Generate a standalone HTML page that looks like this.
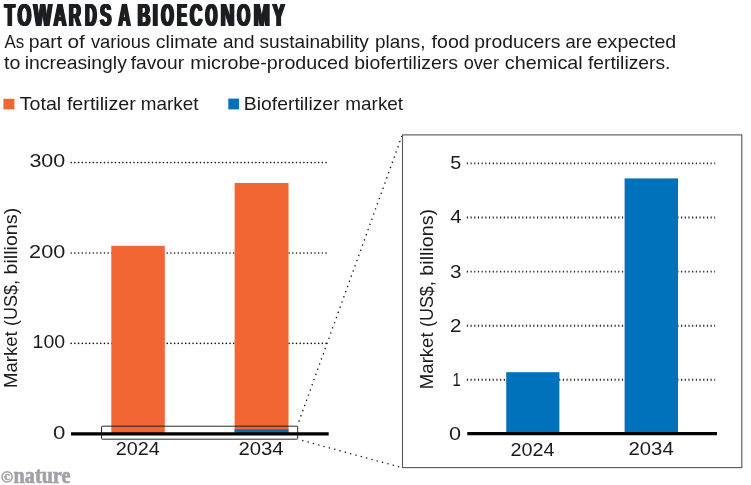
<!DOCTYPE html>
<html><head><meta charset="utf-8">
<style>
html,body{margin:0;padding:0;background:#fff;}
body{width:751px;height:485px;overflow:hidden;}
svg{display:block;will-change:transform;}
text{font-family:"Liberation Sans",sans-serif;fill:#1a1a1a;}
</style></head><body>
<svg width="751" height="485" viewBox="0 0 751 485">
<rect width="751" height="485" fill="#fff"/>
<!-- legend swatches -->
<rect x="3.4" y="98.8" width="11" height="10.6" fill="#F16633"/>
<rect x="228.3" y="98.6" width="10.7" height="10.8" fill="#0072BC"/>

<!-- LEFT CHART -->
<g stroke="#111" stroke-width="1.6" stroke-linecap="round" stroke-dasharray="0.01 3.683" fill="none">
<line x1="71.2" y1="162.6" x2="326.4" y2="162.6"/>
<line x1="71.2" y1="253" x2="326.4" y2="253"/>
<line x1="71.2" y1="343.4" x2="326.4" y2="343.4"/>
</g>
<rect x="111.3" y="245.8" width="53.5" height="187.5" fill="#F16633"/>
<rect x="234.6" y="183" width="53.9" height="250.3" fill="#F16633"/>
<rect x="234.6" y="429.2" width="53.9" height="3.6" fill="#0072BC"/>
<line x1="71" y1="433.9" x2="328.7" y2="433.9" stroke="#000" stroke-width="3.1"/>
<rect x="101.5" y="426.2" width="196.2" height="13" rx="0.8" fill="none" stroke="#111" stroke-width="0.9"/>
<g transform="translate(17,386.6) rotate(-90)">
<text x="-1.45" y="0.00" font-size="18" textLength="56.69" lengthAdjust="spacingAndGlyphs">Market</text>
<text x="60.66" y="0.00" font-size="18" textLength="45.88" lengthAdjust="spacingAndGlyphs">(US$,</text>
<text x="112.07" y="0.00" font-size="18" textLength="66.75" lengthAdjust="spacingAndGlyphs">billions)</text>
</g>

<!-- connectors -->
<g stroke="#111" stroke-width="1.5" stroke-linecap="round" fill="none">
<line x1="401.7" y1="136.4" x2="297.4" y2="425.6" stroke-dasharray="0.01 5.49"/>
<line x1="398.5" y1="466.7" x2="297.9" y2="439.28" stroke-dasharray="0.01 5.50"/>
</g>

<!-- RIGHT PANEL -->
<rect x="402.5" y="134.9" width="339.3" height="332.7" fill="#fff" stroke="#555" stroke-width="1.1"/>
<g stroke="#1a1a1a" stroke-width="1.9" stroke-dasharray="1.15 2.543" fill="none">
<line x1="466.83" y1="163.4" x2="715.1" y2="163.4"/>
<line x1="466.83" y1="217.5" x2="715.1" y2="217.5"/>
<line x1="466.83" y1="271.6" x2="715.1" y2="271.6"/>
<line x1="466.83" y1="325.7" x2="715.1" y2="325.7"/>
<line x1="466.83" y1="379.7" x2="715.1" y2="379.7"/>
</g>
<rect x="506.2" y="372.2" width="53.2" height="61" fill="#0072BC"/>
<rect x="624.6" y="178.4" width="53.4" height="255" fill="#0072BC"/>
<line x1="467.3" y1="433.65" x2="717" y2="433.65" stroke="#000" stroke-width="3.1"/>
<g transform="translate(432.7,387.7) rotate(-90)">
<text x="-1.45" y="0.00" font-size="18" textLength="56.69" lengthAdjust="spacingAndGlyphs">Market</text>
<text x="60.66" y="0.00" font-size="18" textLength="45.88" lengthAdjust="spacingAndGlyphs">(US$,</text>
<text x="112.07" y="0.00" font-size="18" textLength="66.75" lengthAdjust="spacingAndGlyphs">billions)</text>
</g>

<!-- copyright mark -->
<circle cx="7.1" cy="476.8" r="5.15" fill="none" stroke="#a0a3a6" stroke-width="1.5"/>
<text x="4.2" y="480.3" font-size="12.5" font-weight="bold" stroke="#a0a3a6" stroke-width="0.4" style="font-family:'Liberation Serif',serif;fill:#a0a3a6">c</text>

<!-- all text -->
<text x="3.40" y="26.20" font-size="31.5" font-weight="bold" textLength="10.32" lengthAdjust="spacingAndGlyphs" style="fill:#1c1f22">T</text>
<text x="3.97" y="26.20" font-size="31.5" font-weight="bold" textLength="10.32" lengthAdjust="spacingAndGlyphs" style="fill:#1c1f22">T</text>
<text x="4.55" y="26.20" font-size="31.5" font-weight="bold" textLength="10.32" lengthAdjust="spacingAndGlyphs" style="fill:#1c1f22">T</text>
<text x="5.12" y="26.20" font-size="31.5" font-weight="bold" textLength="10.32" lengthAdjust="spacingAndGlyphs" style="fill:#1c1f22">T</text>
<text x="5.70" y="26.20" font-size="31.5" font-weight="bold" textLength="10.32" lengthAdjust="spacingAndGlyphs" style="fill:#1c1f22">T</text>
<text x="16.45" y="26.20" font-size="31.5" font-weight="bold" textLength="13.64" lengthAdjust="spacingAndGlyphs" style="fill:#1c1f22">O</text>
<text x="17.03" y="26.20" font-size="31.5" font-weight="bold" textLength="13.64" lengthAdjust="spacingAndGlyphs" style="fill:#1c1f22">O</text>
<text x="17.60" y="26.20" font-size="31.5" font-weight="bold" textLength="13.64" lengthAdjust="spacingAndGlyphs" style="fill:#1c1f22">O</text>
<text x="18.18" y="26.20" font-size="31.5" font-weight="bold" textLength="13.64" lengthAdjust="spacingAndGlyphs" style="fill:#1c1f22">O</text>
<text x="18.75" y="26.20" font-size="31.5" font-weight="bold" textLength="13.64" lengthAdjust="spacingAndGlyphs" style="fill:#1c1f22">O</text>
<text x="32.50" y="26.20" font-size="31.5" font-weight="bold" textLength="18.22" lengthAdjust="spacingAndGlyphs" style="fill:#1c1f22">W</text>
<text x="33.08" y="26.20" font-size="31.5" font-weight="bold" textLength="18.22" lengthAdjust="spacingAndGlyphs" style="fill:#1c1f22">W</text>
<text x="33.65" y="26.20" font-size="31.5" font-weight="bold" textLength="18.22" lengthAdjust="spacingAndGlyphs" style="fill:#1c1f22">W</text>
<text x="34.23" y="26.20" font-size="31.5" font-weight="bold" textLength="18.22" lengthAdjust="spacingAndGlyphs" style="fill:#1c1f22">W</text>
<text x="34.80" y="26.20" font-size="31.5" font-weight="bold" textLength="18.22" lengthAdjust="spacingAndGlyphs" style="fill:#1c1f22">W</text>
<text x="52.43" y="26.20" font-size="31.5" font-weight="bold" textLength="12.71" lengthAdjust="spacingAndGlyphs" style="fill:#1c1f22">A</text>
<text x="53.00" y="26.20" font-size="31.5" font-weight="bold" textLength="12.71" lengthAdjust="spacingAndGlyphs" style="fill:#1c1f22">A</text>
<text x="53.58" y="26.20" font-size="31.5" font-weight="bold" textLength="12.71" lengthAdjust="spacingAndGlyphs" style="fill:#1c1f22">A</text>
<text x="54.15" y="26.20" font-size="31.5" font-weight="bold" textLength="12.71" lengthAdjust="spacingAndGlyphs" style="fill:#1c1f22">A</text>
<text x="54.73" y="26.20" font-size="31.5" font-weight="bold" textLength="12.71" lengthAdjust="spacingAndGlyphs" style="fill:#1c1f22">A</text>
<text x="67.66" y="26.20" font-size="31.5" font-weight="bold" textLength="12.06" lengthAdjust="spacingAndGlyphs" style="fill:#1c1f22">R</text>
<text x="68.23" y="26.20" font-size="31.5" font-weight="bold" textLength="12.06" lengthAdjust="spacingAndGlyphs" style="fill:#1c1f22">R</text>
<text x="68.81" y="26.20" font-size="31.5" font-weight="bold" textLength="12.06" lengthAdjust="spacingAndGlyphs" style="fill:#1c1f22">R</text>
<text x="69.38" y="26.20" font-size="31.5" font-weight="bold" textLength="12.06" lengthAdjust="spacingAndGlyphs" style="fill:#1c1f22">R</text>
<text x="69.96" y="26.20" font-size="31.5" font-weight="bold" textLength="12.06" lengthAdjust="spacingAndGlyphs" style="fill:#1c1f22">R</text>
<text x="83.90" y="26.20" font-size="31.5" font-weight="bold" textLength="11.55" lengthAdjust="spacingAndGlyphs" style="fill:#1c1f22">D</text>
<text x="84.48" y="26.20" font-size="31.5" font-weight="bold" textLength="11.55" lengthAdjust="spacingAndGlyphs" style="fill:#1c1f22">D</text>
<text x="85.05" y="26.20" font-size="31.5" font-weight="bold" textLength="11.55" lengthAdjust="spacingAndGlyphs" style="fill:#1c1f22">D</text>
<text x="85.62" y="26.20" font-size="31.5" font-weight="bold" textLength="11.55" lengthAdjust="spacingAndGlyphs" style="fill:#1c1f22">D</text>
<text x="86.20" y="26.20" font-size="31.5" font-weight="bold" textLength="11.55" lengthAdjust="spacingAndGlyphs" style="fill:#1c1f22">D</text>
<text x="99.04" y="26.20" font-size="31.5" font-weight="bold" textLength="11.21" lengthAdjust="spacingAndGlyphs" style="fill:#1c1f22">S</text>
<text x="99.61" y="26.20" font-size="31.5" font-weight="bold" textLength="11.21" lengthAdjust="spacingAndGlyphs" style="fill:#1c1f22">S</text>
<text x="100.19" y="26.20" font-size="31.5" font-weight="bold" textLength="11.21" lengthAdjust="spacingAndGlyphs" style="fill:#1c1f22">S</text>
<text x="100.76" y="26.20" font-size="31.5" font-weight="bold" textLength="11.21" lengthAdjust="spacingAndGlyphs" style="fill:#1c1f22">S</text>
<text x="101.34" y="26.20" font-size="31.5" font-weight="bold" textLength="11.21" lengthAdjust="spacingAndGlyphs" style="fill:#1c1f22">S</text>
<text x="117.14" y="26.20" font-size="31.5" font-weight="bold" textLength="12.08" lengthAdjust="spacingAndGlyphs" style="fill:#1c1f22">A</text>
<text x="117.71" y="26.20" font-size="31.5" font-weight="bold" textLength="12.08" lengthAdjust="spacingAndGlyphs" style="fill:#1c1f22">A</text>
<text x="118.29" y="26.20" font-size="31.5" font-weight="bold" textLength="12.08" lengthAdjust="spacingAndGlyphs" style="fill:#1c1f22">A</text>
<text x="118.86" y="26.20" font-size="31.5" font-weight="bold" textLength="12.08" lengthAdjust="spacingAndGlyphs" style="fill:#1c1f22">A</text>
<text x="119.44" y="26.20" font-size="31.5" font-weight="bold" textLength="12.08" lengthAdjust="spacingAndGlyphs" style="fill:#1c1f22">A</text>
<text x="136.62" y="26.20" font-size="31.5" font-weight="bold" textLength="12.48" lengthAdjust="spacingAndGlyphs" style="fill:#1c1f22">B</text>
<text x="137.19" y="26.20" font-size="31.5" font-weight="bold" textLength="12.48" lengthAdjust="spacingAndGlyphs" style="fill:#1c1f22">B</text>
<text x="137.77" y="26.20" font-size="31.5" font-weight="bold" textLength="12.48" lengthAdjust="spacingAndGlyphs" style="fill:#1c1f22">B</text>
<text x="138.34" y="26.20" font-size="31.5" font-weight="bold" textLength="12.48" lengthAdjust="spacingAndGlyphs" style="fill:#1c1f22">B</text>
<text x="138.92" y="26.20" font-size="31.5" font-weight="bold" textLength="12.48" lengthAdjust="spacingAndGlyphs" style="fill:#1c1f22">B</text>
<text x="151.40" y="26.20" font-size="31.5" font-weight="bold" textLength="5.33" lengthAdjust="spacingAndGlyphs" style="fill:#1c1f22">I</text>
<text x="151.97" y="26.20" font-size="31.5" font-weight="bold" textLength="5.33" lengthAdjust="spacingAndGlyphs" style="fill:#1c1f22">I</text>
<text x="152.55" y="26.20" font-size="31.5" font-weight="bold" textLength="5.33" lengthAdjust="spacingAndGlyphs" style="fill:#1c1f22">I</text>
<text x="153.12" y="26.20" font-size="31.5" font-weight="bold" textLength="5.33" lengthAdjust="spacingAndGlyphs" style="fill:#1c1f22">I</text>
<text x="153.70" y="26.20" font-size="31.5" font-weight="bold" textLength="5.33" lengthAdjust="spacingAndGlyphs" style="fill:#1c1f22">I</text>
<text x="160.10" y="26.20" font-size="31.5" font-weight="bold" textLength="12.45" lengthAdjust="spacingAndGlyphs" style="fill:#1c1f22">O</text>
<text x="160.67" y="26.20" font-size="31.5" font-weight="bold" textLength="12.45" lengthAdjust="spacingAndGlyphs" style="fill:#1c1f22">O</text>
<text x="161.25" y="26.20" font-size="31.5" font-weight="bold" textLength="12.45" lengthAdjust="spacingAndGlyphs" style="fill:#1c1f22">O</text>
<text x="161.82" y="26.20" font-size="31.5" font-weight="bold" textLength="12.45" lengthAdjust="spacingAndGlyphs" style="fill:#1c1f22">O</text>
<text x="162.40" y="26.20" font-size="31.5" font-weight="bold" textLength="12.45" lengthAdjust="spacingAndGlyphs" style="fill:#1c1f22">O</text>
<text x="175.98" y="26.20" font-size="31.5" font-weight="bold" textLength="9.81" lengthAdjust="spacingAndGlyphs" style="fill:#1c1f22">E</text>
<text x="176.56" y="26.20" font-size="31.5" font-weight="bold" textLength="9.81" lengthAdjust="spacingAndGlyphs" style="fill:#1c1f22">E</text>
<text x="177.13" y="26.20" font-size="31.5" font-weight="bold" textLength="9.81" lengthAdjust="spacingAndGlyphs" style="fill:#1c1f22">E</text>
<text x="177.71" y="26.20" font-size="31.5" font-weight="bold" textLength="9.81" lengthAdjust="spacingAndGlyphs" style="fill:#1c1f22">E</text>
<text x="178.28" y="26.20" font-size="31.5" font-weight="bold" textLength="9.81" lengthAdjust="spacingAndGlyphs" style="fill:#1c1f22">E</text>
<text x="188.76" y="26.20" font-size="31.5" font-weight="bold" textLength="12.47" lengthAdjust="spacingAndGlyphs" style="fill:#1c1f22">C</text>
<text x="189.34" y="26.20" font-size="31.5" font-weight="bold" textLength="12.47" lengthAdjust="spacingAndGlyphs" style="fill:#1c1f22">C</text>
<text x="189.91" y="26.20" font-size="31.5" font-weight="bold" textLength="12.47" lengthAdjust="spacingAndGlyphs" style="fill:#1c1f22">C</text>
<text x="190.49" y="26.20" font-size="31.5" font-weight="bold" textLength="12.47" lengthAdjust="spacingAndGlyphs" style="fill:#1c1f22">C</text>
<text x="191.06" y="26.20" font-size="31.5" font-weight="bold" textLength="12.47" lengthAdjust="spacingAndGlyphs" style="fill:#1c1f22">C</text>
<text x="204.33" y="26.20" font-size="31.5" font-weight="bold" textLength="11.80" lengthAdjust="spacingAndGlyphs" style="fill:#1c1f22">O</text>
<text x="204.90" y="26.20" font-size="31.5" font-weight="bold" textLength="11.80" lengthAdjust="spacingAndGlyphs" style="fill:#1c1f22">O</text>
<text x="205.48" y="26.20" font-size="31.5" font-weight="bold" textLength="11.80" lengthAdjust="spacingAndGlyphs" style="fill:#1c1f22">O</text>
<text x="206.05" y="26.20" font-size="31.5" font-weight="bold" textLength="11.80" lengthAdjust="spacingAndGlyphs" style="fill:#1c1f22">O</text>
<text x="206.63" y="26.20" font-size="31.5" font-weight="bold" textLength="11.80" lengthAdjust="spacingAndGlyphs" style="fill:#1c1f22">O</text>
<text x="219.40" y="26.20" font-size="31.5" font-weight="bold" textLength="13.87" lengthAdjust="spacingAndGlyphs" style="fill:#1c1f22">N</text>
<text x="219.97" y="26.20" font-size="31.5" font-weight="bold" textLength="13.87" lengthAdjust="spacingAndGlyphs" style="fill:#1c1f22">N</text>
<text x="220.55" y="26.20" font-size="31.5" font-weight="bold" textLength="13.87" lengthAdjust="spacingAndGlyphs" style="fill:#1c1f22">N</text>
<text x="221.12" y="26.20" font-size="31.5" font-weight="bold" textLength="13.87" lengthAdjust="spacingAndGlyphs" style="fill:#1c1f22">N</text>
<text x="221.70" y="26.20" font-size="31.5" font-weight="bold" textLength="13.87" lengthAdjust="spacingAndGlyphs" style="fill:#1c1f22">N</text>
<text x="236.07" y="26.20" font-size="31.5" font-weight="bold" textLength="13.09" lengthAdjust="spacingAndGlyphs" style="fill:#1c1f22">O</text>
<text x="236.65" y="26.20" font-size="31.5" font-weight="bold" textLength="13.09" lengthAdjust="spacingAndGlyphs" style="fill:#1c1f22">O</text>
<text x="237.22" y="26.20" font-size="31.5" font-weight="bold" textLength="13.09" lengthAdjust="spacingAndGlyphs" style="fill:#1c1f22">O</text>
<text x="237.80" y="26.20" font-size="31.5" font-weight="bold" textLength="13.09" lengthAdjust="spacingAndGlyphs" style="fill:#1c1f22">O</text>
<text x="238.37" y="26.20" font-size="31.5" font-weight="bold" textLength="13.09" lengthAdjust="spacingAndGlyphs" style="fill:#1c1f22">O</text>
<text x="252.48" y="26.20" font-size="31.5" font-weight="bold" textLength="16.23" lengthAdjust="spacingAndGlyphs" style="fill:#1c1f22">M</text>
<text x="253.06" y="26.20" font-size="31.5" font-weight="bold" textLength="16.23" lengthAdjust="spacingAndGlyphs" style="fill:#1c1f22">M</text>
<text x="253.63" y="26.20" font-size="31.5" font-weight="bold" textLength="16.23" lengthAdjust="spacingAndGlyphs" style="fill:#1c1f22">M</text>
<text x="254.21" y="26.20" font-size="31.5" font-weight="bold" textLength="16.23" lengthAdjust="spacingAndGlyphs" style="fill:#1c1f22">M</text>
<text x="254.78" y="26.20" font-size="31.5" font-weight="bold" textLength="16.23" lengthAdjust="spacingAndGlyphs" style="fill:#1c1f22">M</text>
<text x="271.42" y="26.20" font-size="31.5" font-weight="bold" textLength="12.08" lengthAdjust="spacingAndGlyphs" style="fill:#1c1f22">Y</text>
<text x="271.99" y="26.20" font-size="31.5" font-weight="bold" textLength="12.08" lengthAdjust="spacingAndGlyphs" style="fill:#1c1f22">Y</text>
<text x="272.57" y="26.20" font-size="31.5" font-weight="bold" textLength="12.08" lengthAdjust="spacingAndGlyphs" style="fill:#1c1f22">Y</text>
<text x="273.14" y="26.20" font-size="31.5" font-weight="bold" textLength="12.08" lengthAdjust="spacingAndGlyphs" style="fill:#1c1f22">Y</text>
<text x="273.72" y="26.20" font-size="31.5" font-weight="bold" textLength="12.08" lengthAdjust="spacingAndGlyphs" style="fill:#1c1f22">Y</text>
<text x="4.40" y="47.70" font-size="17.8" textLength="19.73" lengthAdjust="spacingAndGlyphs">As</text>
<text x="28.79" y="47.70" font-size="17.8" textLength="33.45" lengthAdjust="spacingAndGlyphs">part</text>
<text x="67.45" y="47.70" font-size="17.8" textLength="17.38" lengthAdjust="spacingAndGlyphs">of</text>
<text x="90.90" y="47.70" font-size="17.8" textLength="59.27" lengthAdjust="spacingAndGlyphs">various</text>
<text x="155.79" y="47.70" font-size="17.8" textLength="61.90" lengthAdjust="spacingAndGlyphs">climate</text>
<text x="222.91" y="47.70" font-size="17.8" textLength="31.55" lengthAdjust="spacingAndGlyphs">and</text>
<text x="259.50" y="47.70" font-size="17.8" textLength="109.40" lengthAdjust="spacingAndGlyphs">sustainability</text>
<text x="375.12" y="47.70" font-size="17.8" textLength="50.29" lengthAdjust="spacingAndGlyphs">plans,</text>
<text x="431.60" y="47.70" font-size="17.8" textLength="38.00" lengthAdjust="spacingAndGlyphs">food</text>
<text x="474.29" y="47.70" font-size="17.8" textLength="86.22" lengthAdjust="spacingAndGlyphs">producers</text>
<text x="565.42" y="47.70" font-size="17.8" textLength="26.62" lengthAdjust="spacingAndGlyphs">are</text>
<text x="596.69" y="47.70" font-size="17.8" textLength="79.51" lengthAdjust="spacingAndGlyphs">expected</text>
<text x="4.00" y="69.30" font-size="17.8" textLength="16.40" lengthAdjust="spacingAndGlyphs">to</text>
<text x="24.79" y="69.30" font-size="17.8" textLength="102.01" lengthAdjust="spacingAndGlyphs">increasingly</text>
<text x="130.80" y="69.30" font-size="17.8" textLength="53.29" lengthAdjust="spacingAndGlyphs">favour</text>
<text x="190.27" y="69.30" font-size="17.8" textLength="158.74" lengthAdjust="spacingAndGlyphs">microbe-produced</text>
<text x="354.29" y="69.30" font-size="17.8" textLength="103.62" lengthAdjust="spacingAndGlyphs">biofertilizers</text>
<text x="463.73" y="69.30" font-size="17.8" textLength="35.25" lengthAdjust="spacingAndGlyphs">over</text>
<text x="504.88" y="69.30" font-size="17.8" textLength="77.82" lengthAdjust="spacingAndGlyphs">chemical</text>
<text x="588.00" y="69.30" font-size="17.8" textLength="82.44" lengthAdjust="spacingAndGlyphs">fertilizers.</text>
<text x="19.69" y="109.60" font-size="18.1" textLength="41.50" lengthAdjust="spacingAndGlyphs">Total</text>
<text x="66.90" y="109.60" font-size="18.1" textLength="69.00" lengthAdjust="spacingAndGlyphs">fertilizer</text>
<text x="140.82" y="109.60" font-size="18.1" textLength="57.61" lengthAdjust="spacingAndGlyphs">market</text>
<text x="243.89" y="109.60" font-size="18.1" textLength="95.71" lengthAdjust="spacingAndGlyphs">Biofertilizer</text>
<text x="345.32" y="109.60" font-size="18.1" textLength="57.82" lengthAdjust="spacingAndGlyphs">market</text>
<text x="29.43" y="167.10" font-size="17.5" textLength="35.81" lengthAdjust="spacingAndGlyphs">300</text>
<text x="29.08" y="258.00" font-size="17.5" textLength="36.16" lengthAdjust="spacingAndGlyphs">200</text>
<text x="32.58" y="348.30" font-size="17.5" textLength="32.50" lengthAdjust="spacingAndGlyphs">100</text>
<text x="53.11" y="439.30" font-size="17.5" textLength="12.35" lengthAdjust="spacingAndGlyphs">0</text>
<text x="115.67" y="455.40" font-size="17.5" textLength="44.02" lengthAdjust="spacingAndGlyphs">2024</text>
<text x="238.45" y="455.40" font-size="17.5" textLength="45.26" lengthAdjust="spacingAndGlyphs">2034</text>
<text x="450.18" y="168.80" font-size="17.5" textLength="11.02" lengthAdjust="spacingAndGlyphs">5</text>
<text x="450.18" y="223.10" font-size="17.5" textLength="11.33" lengthAdjust="spacingAndGlyphs">4</text>
<text x="450.05" y="277.50" font-size="17.5" textLength="11.48" lengthAdjust="spacingAndGlyphs">3</text>
<text x="450.14" y="331.70" font-size="17.5" textLength="11.39" lengthAdjust="spacingAndGlyphs">2</text>
<text x="452.58" y="385.70" font-size="17.5" textLength="8.22" lengthAdjust="spacingAndGlyphs">1</text>
<text x="449.02" y="439.80" font-size="17.5" textLength="12.01" lengthAdjust="spacingAndGlyphs">0</text>
<text x="510.47" y="456.40" font-size="17.5" textLength="44.02" lengthAdjust="spacingAndGlyphs">2024</text>
<text x="628.55" y="455.00" font-size="17.5" textLength="45.16" lengthAdjust="spacingAndGlyphs">2034</text>
<text x="13.58" y="482.60" font-size="23.5" font-weight="bold" textLength="56.86" lengthAdjust="spacingAndGlyphs" stroke="#a0a3a6" stroke-width="0.7" style="font-family:'Liberation Serif',serif;fill:#a0a3a6">nature</text>
</svg>
</body></html>
